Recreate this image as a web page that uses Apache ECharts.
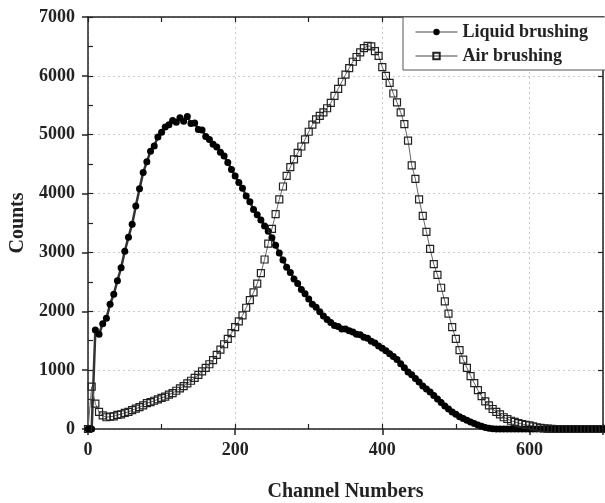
<!DOCTYPE html>
<html>
<head>
<meta charset="utf-8">
<script src="https://cdn.jsdelivr.net/npm/echarts@6/dist/echarts.min.js"></script>
<style>
  body { margin: 0; background: #fff; }
  #chart { width: 605px; height: 503px; }
</style>
</head>
<body>
<div id="chart"></div>
<script>
// channel spacing of the sampled points
const channelStep = 5;

// counts per channel (channel 0, 5, 10 ... 700)
const liquidCounts = [
  0, 0, 1680, 1610, 1790, 1880, 2120, 2290, 2520, 2740,
  3020, 3260, 3480, 3790, 4080, 4360, 4540, 4720, 4810, 4960,
  5040, 5130, 5170, 5240, 5210, 5290, 5230, 5310, 5190, 5200,
  5090, 5080, 4970, 4920, 4840, 4790, 4700, 4640, 4530, 4410,
  4300, 4190, 4090, 3960, 3860, 3730, 3640, 3550, 3450, 3360,
  3250, 3120, 2990, 2870, 2750, 2660, 2550, 2470, 2370, 2300,
  2210, 2120, 2070, 1990, 1920, 1860, 1810, 1760, 1740, 1700,
  1700, 1670, 1650, 1610, 1600, 1560, 1540, 1490, 1460, 1410,
  1370, 1330, 1280, 1230, 1180, 1110, 1040, 970, 920, 860,
  800, 730, 680, 630, 570, 510, 450, 390, 340, 290,
  250, 210, 180, 150, 120, 95, 70, 45, 25, 12,
  5, 0, 0, 0, 0, 0, 0, 0, 0, 0,
  0, 0, 0, 0, 0, 0, 0, 0, 0, 0,
  0, 0, 0, 0, 0, 0, 0, 0, 0, 0,
  0
];

const airCounts = [
  0, 720, 430, 290, 230, 200, 210, 215, 240, 250,
  275, 290, 320, 345, 370, 400, 440, 455, 480, 505,
  530, 550, 585, 610, 650, 690, 730, 775, 820, 870,
  920, 980, 1040, 1100, 1170, 1260, 1350, 1440, 1530, 1630,
  1730, 1830, 1930, 2060, 2190, 2320, 2470, 2650, 2880, 3150,
  3400, 3650, 3900, 4120, 4300, 4450, 4580, 4690, 4800, 4920,
  5050, 5170, 5260, 5320, 5380, 5450, 5540, 5660, 5780, 5900,
  6020, 6130, 6240, 6320, 6400, 6470, 6510, 6500, 6420, 6340,
  6150, 6000, 5880, 5700, 5550, 5380, 5180, 4900, 4480, 4250,
  3900, 3620, 3350, 3060, 2800, 2620, 2400, 2170, 1960, 1730,
  1530, 1340, 1180, 1040, 900, 780, 660, 560, 470, 400,
  340, 290, 250, 200, 170, 140, 120, 100, 85, 70,
  60, 45, 30, 20, 12, 6, 3, 0, 0, 0,
  0, 0, 0, 0, 0, 0, 0, 0, 0, 0,
  0
];

const xTicks = [0, 200, 400, 600];
const seriesNames = ['Liquid brushing', 'Air brushing'];

function toPoints(arr) {
  return arr.map((v, i) => [i * channelStep, v]);
}

const labelFont = {
  fontFamily: 'Liberation Serif',
  fontWeight: 'bold',
  color: '#222'
};

let chart = echarts.init(document.getElementById('chart'));
let option = {
  backgroundColor: '#fff',
  animation: false,
  grid: { left: 88, right: 2, top: 17, bottom: 74, containLabel: false, outerBoundsMode: 'none' },
  legend: {
    data: seriesNames,
    orient: 'vertical',
    left: 403,
    top: 17,
    padding: [6, 30, 5, 12],
    itemGap: 6,
    itemWidth: 42,
    itemHeight: 8,
    borderColor: '#555',
    borderWidth: 1,
    backgroundColor: '#fff',
    lineStyle: { width: 1, color: '#444' },
    textStyle: Object.assign({ fontSize: 18 }, labelFont)
  },
  xAxis: [
    {
      type: 'value',
      min: 0, max: 700, interval: 200,
      name: 'Channel Numbers',
      nameLocation: 'middle',
      nameGap: 53,
      nameTextStyle: Object.assign({ fontSize: 20 }, labelFont),
      axisLine: { onZero: false, lineStyle: { color: '#222', width: 1.5 } },
      axisTick: { length: 6, lineStyle: { color: '#222', width: 1.5 } },
      axisLabel: Object.assign({ fontSize: 18, margin: 12,
        formatter: v => xTicks.indexOf(v) >= 0 ? String(v) : '' }, labelFont),
      splitLine: { show: true, lineStyle: { color: '#ccc', type: [2, 3] } }
    },
    {
      // inner ticks of the bottom frame
      type: 'value', position: 'bottom',
      min: 0, max: 700, interval: 100,
      axisLine: { show: false },
      axisTick: { inside: true, length: 5, lineStyle: { color: '#222', width: 1.2 } },
      axisLabel: { show: false },
      splitLine: { show: false }
    },
    {
      // top frame
      type: 'value', position: 'top',
      min: 0, max: 700, interval: 100,
      axisLine: { onZero: false, lineStyle: { color: '#222', width: 1.5 } },
      axisTick: { inside: true, length: 5, lineStyle: { color: '#222', width: 1.2 } },
      axisLabel: { show: false },
      splitLine: { show: false }
    }
  ],
  yAxis: [
    {
      type: 'value',
      min: 0, max: 7000, interval: 1000,
      name: 'Counts',
      nameLocation: 'middle',
      nameGap: 58,
      nameTextStyle: Object.assign({ fontSize: 20 }, labelFont),
      axisLine: { onZero: false, lineStyle: { color: '#222', width: 1.5 } },
      axisTick: { length: 6, lineStyle: { color: '#222', width: 1.5 } },
      axisLabel: Object.assign({ fontSize: 18, margin: 13, formatter: v => String(v) }, labelFont),
      splitLine: { show: true, lineStyle: { color: '#ccc', type: [2, 3] } }
    },
    {
      type: 'value', position: 'left',
      min: 0, max: 7000, interval: 500,
      axisLine: { show: false },
      axisTick: { inside: true, length: 5, lineStyle: { color: '#222', width: 1.2 } },
      axisLabel: { show: false },
      splitLine: { show: false }
    },
    {
      type: 'value', position: 'right',
      min: 0, max: 7000, interval: 1000,
      axisLine: { onZero: false, lineStyle: { color: '#222', width: 1.5 } },
      axisTick: { inside: true, length: 5, lineStyle: { color: '#222', width: 1.2 } },
      axisLabel: { show: false },
      splitLine: { show: false }
    }
  ],
  series: [
    {
      name: seriesNames[0],
      type: 'line',
      data: toPoints(liquidCounts),
      symbol: 'circle',
      symbolSize: 7,
      showAllSymbol: true,
      itemStyle: { color: '#000' },
      lineStyle: { color: '#333', width: 2.5 }
    },
    {
      name: seriesNames[1],
      type: 'line',
      data: toPoints(airCounts),
      symbol: 'rect',
      symbolSize: 7,
      showAllSymbol: true,
      itemStyle: { color: 'rgba(0,0,0,0)', borderColor: '#222', borderWidth: 1.2 },
      lineStyle: { color: '#666', width: 1 }
    }
  ]
};
chart.setOption(option);
</script>
</body>
</html>
